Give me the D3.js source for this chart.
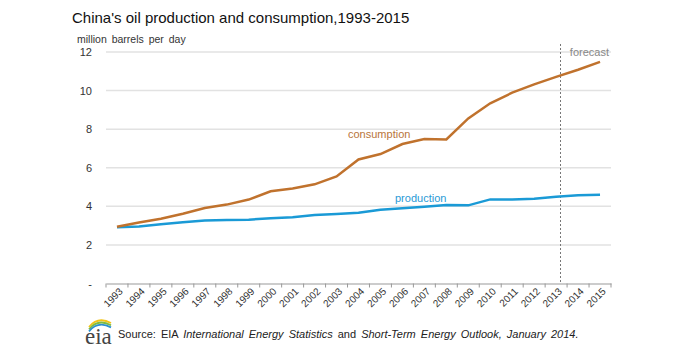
<!DOCTYPE html>
<html>
<head>
<meta charset="utf-8">
<script src="https://cdn.jsdelivr.net/npm/d3@7"></script>
<style>
  body { margin: 0; background: #fff; }
  text { font-family: "Liberation Sans", Arial, sans-serif; }
</style>
</head>
<body>
<div id="chart"></div>
<script>
// data
let years = ["1993","1994","1995","1996","1997","1998","1999","2000","2001","2002","2003",
             "2004","2005","2006","2007","2008","2009","2010","2011","2012","2013","2014","2015"];
let consumption = [2.94, 3.16, 3.36, 3.62, 3.91, 4.09, 4.35, 4.78, 4.93, 5.14, 5.55,
                   6.43, 6.71, 7.23, 7.49, 7.47, 8.56, 9.34, 9.89, 10.32, 10.71, 11.08, 11.49];
let production = [2.91, 2.95, 3.07, 3.17, 3.26, 3.29, 3.31, 3.38, 3.43, 3.55, 3.60,
                  3.67, 3.82, 3.90, 3.98, 4.07, 4.05, 4.36, 4.36, 4.39, 4.50, 4.57, 4.60];
let yTicks = [0, 2, 4, 6, 8, 10, 12];
let forecastFrom = "2013";

let W = 680, H = 360;
let margin = {top: 52, right: 69, bottom: 76.5, left: 106},
    width = W - margin.left - margin.right,
    height = H - margin.top - margin.bottom;

let svg = d3.select("#chart")
  .append("svg")
    .attr("width", W)
    .attr("height", H);

let chart = svg.append("g")
    .attr("transform", "translate(" + margin.left + "," + margin.top + ")");

// X axis
let x = d3.scaleBand()
  .range([0, width])
  .domain(years);

// Y axis
let y = d3.scaleLinear()
  .domain([0, 12])
  .range([height, 0]);

// gridlines
chart.append("g")
  .selectAll("line")
  .data(yTicks.filter(d => d > 0))
  .enter()
  .append("line")
    .attr("x1", 0)
    .attr("x2", width)
    .attr("y1", d => y(d))
    .attr("y2", d => y(d))
    .style("stroke", "#e2e2e2")
    .style("stroke-width", 1.5);

// y labels
chart.append("g")
  .selectAll("text")
  .data(yTicks)
  .enter()
  .append("text")
    .attr("x", -14)
    .attr("y", d => y(d) + 4)
    .attr("text-anchor", "end")
    .style("font-size", "11px")
    .style("fill", "#333")
    .text(d => d === 0 ? "-" : d);

let xAxis = d3.axisBottom(x).tickSize(0);

let gx = chart.append("g")
  .attr("transform", "translate(0," + height + ")")
  .call(xAxis);
gx.select(".domain").style("stroke", "#999").style("stroke-width", 1.2);
gx.selectAll("text")
    .attr("transform", "translate(4,6) rotate(-45)")
    .attr("dy", "0.35em")
    .attr("y", 0)
    .attr("x", 0)
    .style("text-anchor", "end")
    .style("font-size", "10px")
    .style("fill", "#333");

// tick marks at band boundaries
chart.append("g")
  .selectAll("line")
  .data(years.concat(["end"]))
  .enter()
  .append("line")
    .attr("x1", (d, i) => i * x.step())
    .attr("x2", (d, i) => i * x.step())
    .attr("y1", height)
    .attr("y2", height + 4)
    .style("stroke", "#999")
    .style("stroke-width", 1);

// forecast marker
let fx = x(forecastFrom) + x.bandwidth() * 0.7;
chart.append("line")
  .attr("x1", fx)
  .attr("x2", fx)
  .attr("y1", -8)
  .attr("y2", height)
  .style("stroke", "#777")
  .style("stroke-width", 1)
  .style("stroke-dasharray", "2,2");

chart.append("text")
  .attr("x", width - 2)
  .attr("y", 4)
  .attr("text-anchor", "end")
  .style("font-size", "11px")
  .style("fill", "#888")
  .text("forecast");

// lines
let line = d3.line()
  .x((d, i) => x(years[i]) + x.bandwidth() / 2)
  .y(d => y(d));

chart.append("path")
  .datum(production)
  .attr("d", line)
  .style("fill", "none")
  .style("stroke", "#1a9ad6")
  .style("stroke-width", 2.5);

chart.append("path")
  .datum(consumption)
  .attr("d", line)
  .style("fill", "none")
  .style("stroke", "#c0722d")
  .style("stroke-width", 2.5);

// series labels
chart.append("text")
  .attr("x", 242)
  .attr("y", 86)
  .style("font-size", "11px")
  .style("fill", "#b8743a")
  .text("consumption");

chart.append("text")
  .attr("x", 289)
  .attr("y", 150)
  .style("font-size", "11px")
  .style("fill", "#2a9ad6")
  .text("production");

// titles
svg.append("text")
  .attr("x", 72)
  .attr("y", 23)
  .style("font-size", "15px")
  .style("fill", "#111")
  .text("China's oil production and consumption,1993-2015");

svg.append("text")
  .attr("x", 77)
  .attr("y", 43)
  .style("font-size", "10.5px")
  .style("word-spacing", "2px")
  .style("fill", "#333")
  .text("million barrels per day");

// eia logo
let logo = svg.append("g").attr("transform", "translate(85,318)");
let arcs = [["#f2c318", 0], ["#7dbb42", 2.2], ["#2a8fcf", 4.4]];
arcs.forEach(function(a) {
  logo.append("path")
    .attr("d", "M4," + (9 + a[1]) + " Q13," + (-2 + a[1]) + " 26," + (5 + a[1]))
    .style("fill", "none")
    .style("stroke", a[0])
    .style("stroke-width", 1.8);
});
logo.append("text")
  .attr("x", 0)
  .attr("y", 26)
  .style("font-family", "'Liberation Serif', serif")
  .style("font-size", "23px")
  .style("fill", "#444")
  .text("eia");

let src = svg.append("text")
  .attr("x", 118)
  .attr("y", 338)
  .style("font-size", "11px")
  .style("word-spacing", "2px")
  .style("fill", "#222");
src.append("tspan").text("Source: EIA ");
src.append("tspan").style("font-style", "italic").text("International Energy Statistics");
src.append("tspan").text(" and ");
src.append("tspan").style("font-style", "italic").text("Short-Term Energy Outlook,");
src.append("tspan").style("font-style", "italic").text(" January 2014.");
</script>
</body>
</html>
